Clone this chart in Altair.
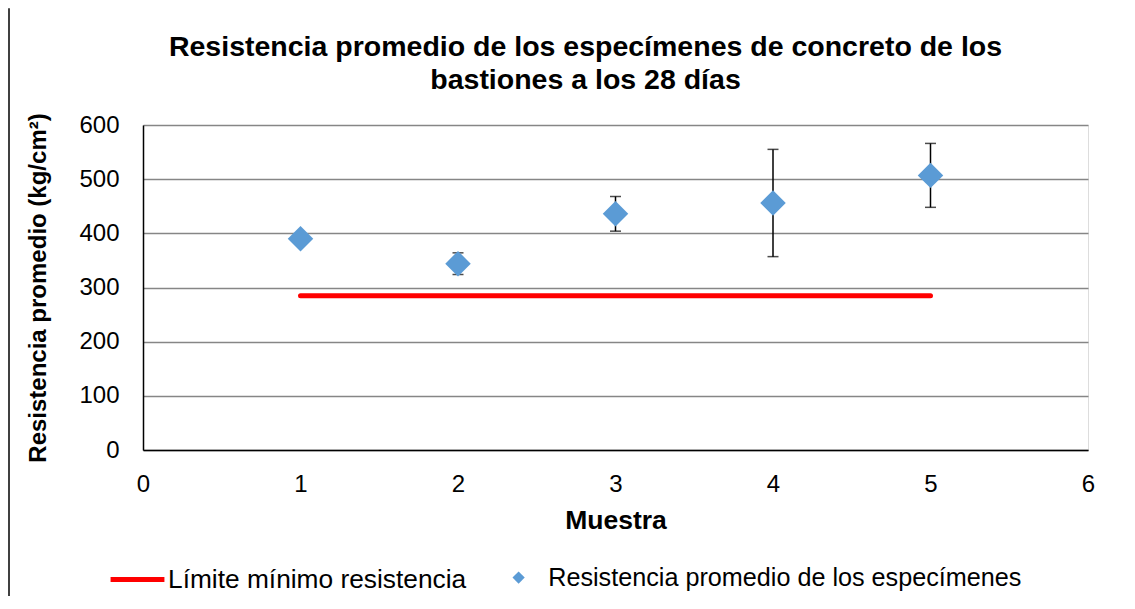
import altair as alt
import pandas as pd

# ---- data ----
muestras = [1, 2, 3, 4, 5]
resistencia = [390, 344, 436, 456, 507]
desviacion = [0, 20, 32, 99, 59]
limite_x = [1, 5]
limite_y = [285, 285]

serie_linea = "Límite mínimo resistencia"
serie_puntos = "Resistencia promedio de los especímenes"
titulo = ["Resistencia promedio de los especímenes de concreto de los",
          "bastiones a los 28 días"]
x_ticks = [0, 1, 2, 3, 4, 5, 6]
y_ticks = [0, 100, 200, 300, 400, 500, 600]

FONT = "Liberation Sans"
BLUE = "#5B9BD5"
RED = "#FF0000"

df_pts = pd.DataFrame({
    "muestra": muestras,
    "resistencia": resistencia,
    "low": [r - d for r, d in zip(resistencia, desviacion)],
    "high": [r + d for r, d in zip(resistencia, desviacion)],
    "serie": [serie_puntos] * len(muestras),
})
df_lim = pd.DataFrame({"muestra": limite_x, "valor": limite_y,
                       "serie": [serie_linea] * len(limite_x)})

x_scale = alt.Scale(domain=[0, 6], nice=False, zero=False)
y_scale = alt.Scale(domain=[0, 600], nice=False)

x_axis = alt.Axis(title="Muestra", values=x_ticks, format="d", grid=False,
                  ticks=False, labelFontSize=24, labelFont=FONT,
                  labelColor="black", labelPadding=22, domainColor="black",
                  domainWidth=1.5, titleFont=FONT, titleFontSize=26.5,
                  titleFontWeight="bold", titleColor="black",
                  titleX=472.5, titleY=70, titleBaseline="middle",
                  labelFlush=False)
y_axis = alt.Axis(title="Resistencia promedio (kg/cm²)", values=y_ticks,
                  grid=True, gridColor="#868686", gridWidth=1.5, ticks=False,
                  labelFontSize=24, labelFont=FONT, labelColor="black",
                  labelPadding=24, domainColor="black", domainWidth=1.5,
                  titleFont=FONT, titleFontSize=24, titleFontWeight="bold",
                  titleColor="black", titleX=-105, titleY=162.5,
                  titleBaseline="middle", titleAlign="center",
                  labelFlush=False)

base = alt.Chart(df_pts)

legend_common = dict(title=None, labelFont=FONT, labelColor="black",
                     labelLimit=900, padding=0)

linea = alt.Chart(df_lim).mark_line(strokeWidth=5, strokeCap="round").encode(
    x=alt.X("muestra:Q", scale=x_scale, axis=x_axis),
    y=alt.Y("valor:Q", scale=y_scale, axis=y_axis),
    color=alt.Color("serie:N",
                    scale=alt.Scale(domain=[serie_linea], range=[RED]),
                    legend=alt.Legend(orient="none", legendX=-35, legendY=425,
                                      symbolType="stroke", symbolSize=2900,
                                      symbolStrokeWidth=5, labelOffset=1,
                                      labelFontSize=26.3, **legend_common)),
)

barras = base.mark_rule(color="black", strokeWidth=1.5).encode(
    x="muestra:Q",
    y="low:Q",
    y2="high:Q",
)
caps_hi = base.mark_tick(color="black", thickness=1.5, size=11,
                         orient="horizontal").encode(x="muestra:Q", y="high:Q")
caps_lo = base.mark_tick(color="black", thickness=1.5, size=11,
                         orient="horizontal").encode(x="muestra:Q", y="low:Q")

puntos = base.mark_point(filled=True, size=650, opacity=1, color=BLUE).encode(
    x="muestra:Q",
    y="resistencia:Q",
    shape=alt.Shape("serie:N",
                    scale=alt.Scale(domain=[serie_puntos], range=["diamond"]),
                    legend=alt.Legend(orient="none", legendX=363, legendY=440,
                                      symbolSize=150, symbolFillColor=BLUE,
                                      symbolStrokeColor=BLUE, labelOffset=17,
                                      labelFontSize=25.2, **legend_common)),
)

# chart frame: left edge only for this check
frame_df = pd.DataFrame({"k": [0]})
borde_izq = alt.Chart(frame_df).mark_rect(color="black", strokeWidth=0).encode(
    x=alt.value(-134.75), x2=alt.value(-133.25),
    y=alt.value(-116.75), y2=alt.value(700))

chart = alt.layer(borde_izq, linea, barras, caps_hi, caps_lo,
                  puntos).resolve_scale(
    color="independent", shape="independent"
).properties(
    width=945, height=325,
    title=alt.TitleParams(titulo, font=FONT, fontSize=28.5, fontWeight="bold",
                          color="black", anchor="middle", frame="group",
                          dx=-30, offset=-109, baseline="alphabetic",
                          lineHeight=33),
    autosize=alt.AutoSizeParams(type="none"),
    padding={"left": 135, "top": 117, "right": 39, "bottom": 146},
).configure_view(stroke=None).configure(background="white")

chart.save("out.html", embed_options={"renderer": "svg", "actions": False})
